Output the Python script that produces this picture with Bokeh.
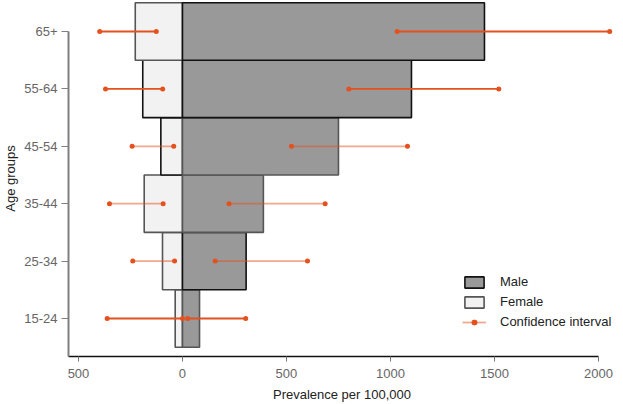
from bokeh.plotting import figure
from bokeh.models import FixedTicker, ColumnDataSource, Legend, LegendItem, Range1d
from bokeh.embed import file_html
from bokeh.resources import INLINE

# ---- data ----
age_groups = ["15-24", "25-34", "35-44", "45-54", "55-64", "65+"]
male = [82, 306, 389, 750, 1101, 1452]
female = [35, 96, 184, 104, 191, 227]
male_ci_low = [25, 157, 224, 524, 800, 1032]
male_ci_high = [304, 601, 686, 1082, 1521, 2054]
female_ci_low = [0, 38, 93, 42, 95, 126]
female_ci_high = [362, 239, 351, 242, 370, 398]
x_ticks = [-500, 0, 500, 1000, 1500, 2000]
x_tick_labels = ["500", "0", "500", "1000", "1500", "2000"]

# ---- styles ----
male_outline = ["#555555", "#111111", "#555555", "#555555", "#111111", "#111111"]
female_outline = ["#555555", "#555555", "#555555", "#111111", "#111111", "#555555"]
ci_alpha = [1.0, 0.5, 0.5, 0.5, 1.0, 1.0]
CI_COLOR = "#E4511E"
FONT = "Liberation Sans"

pos = list(range(len(age_groups)))

bars_m = ColumnDataSource(dict(y=pos, left=[0] * len(pos), right=male, lc=male_outline))
bars_f = ColumnDataSource(dict(y=pos, left=[-v for v in female], right=[0] * len(pos), lc=female_outline))

ci_src = ColumnDataSource(dict(
    x0=[-v for v in female_ci_high] + male_ci_low,
    x1=[-v for v in female_ci_low] + male_ci_high,
    y=pos + pos,
    a=ci_alpha + ci_alpha,
))

p = figure(frame_width=547, frame_height=356, output_backend="svg", toolbar_location=None,
           x_range=Range1d(-548, 2082), y_range=Range1d(-0.662, 5.54),
           min_border_left=60, min_border_right=0, min_border_top=0, min_border_bottom=40)
p.background_fill_color = "white"
p.outline_line_color = None
p.grid.visible = False

rf = p.hbar(y="y", left="left", right="right", height=1.0, source=bars_f,
            fill_color="#F2F2F2", line_color="lc", line_width=1.6)
rm = p.hbar(y="y", left="left", right="right", height=1.0, source=bars_m,
            fill_color="#999999", line_color="lc", line_width=1.6)

rs = p.segment(x0="x0", y0="y", x1="x1", y1="y", source=ci_src,
               line_color=CI_COLOR, line_alpha="a", line_width=1.8)
rp1 = p.scatter(x="x0", y="y", source=ci_src, size=5, color=CI_COLOR, line_width=0)
rp2 = p.scatter(x="x1", y="y", source=ci_src, size=5, color=CI_COLOR, line_width=0)

# axes
xa = p.xaxis[0]
xa.ticker = FixedTicker(ticks=x_ticks)
xa.major_label_overrides = {t: l for t, l in zip(x_ticks, x_tick_labels)}
xa.bounds = (-548, 2000)
xa.axis_label = "Prevalence per 100,000"
xa.axis_line_color = "#111111"
xa.axis_line_width = 1.5
xa.major_tick_line_color = "#777777"
xa.major_tick_out = 5
xa.major_tick_in = 0
xa.minor_tick_line_color = None
xa.major_label_standoff = 7
xa.axis_label_standoff = 6

ya = p.yaxis[0]
ya.ticker = FixedTicker(ticks=pos)
ya.major_label_overrides = {i: g for i, g in zip(pos, age_groups)}
ya.bounds = (-0.662, 5)
ya.axis_label = "Age groups"
ya.axis_line_color = "#808080"
ya.axis_line_width = 2
ya.major_tick_line_color = "#808080"
ya.major_tick_out = 7
ya.major_tick_in = 0
ya.minor_tick_line_color = None
ya.major_label_standoff = 4
ya.axis_label_standoff = 3

for ax in (xa, ya):
    ax.major_label_text_font = FONT
    ax.major_label_text_font_size = "13px"
    ax.major_label_text_color = "#666666"
    ax.axis_label_text_font = FONT
    ax.axis_label_text_font_size = "13px"
    ax.axis_label_text_font_style = "normal"
    ax.axis_label_text_color = "#222222"

legend = Legend(items=[
    LegendItem(label="Male", renderers=[rm], index=5),
    LegendItem(label="Female", renderers=[rf], index=5),
    LegendItem(label="Confidence interval", renderers=[rs, rp1, rp2], index=1),
], location=(394, 27))
legend.background_fill_alpha = 0
legend.border_line_color = None
legend.padding = 0
legend.margin = 0
legend.spacing = 5
legend.glyph_width = 24
legend.glyph_height = 14
legend.label_height = 14
legend.label_standoff = 14
legend.label_text_font = FONT
legend.label_text_font_size = "13px"
legend.label_text_color = "#222222"
p.add_layout(legend, "center")

open("out.html", "w").write(file_html(p, INLINE))
